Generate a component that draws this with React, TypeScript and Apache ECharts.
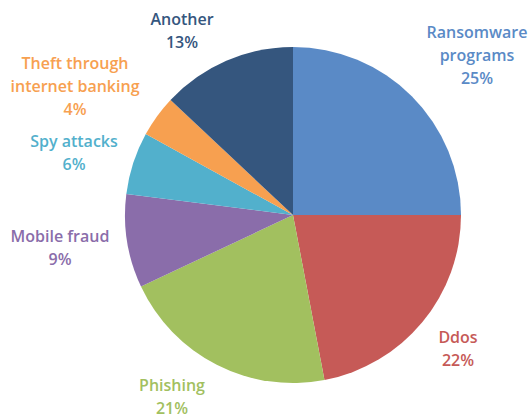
import React, { useEffect, useRef } from "react";
import * as echarts from "echarts";

const categories = [
  "Ransomware\nprograms",
  "Ddos",
  "Phishing",
  "Mobile fraud",
  "Spy attacks",
  "Theft through\ninternet banking",
  "Another",
];
const values = [25, 22, 21, 9, 6, 4, 13];
const colors = ["#5A8AC6", "#C65A57", "#A2C05F", "#8A6DAA", "#52B0CC", "#F7A050", "#35567E"];
const labelPos: [number, number][] = [
  [477, 55],
  [458, 348],
  [172, 396],
  [60, 247],
  [74, 152],
  [75, 86],
  [182, 30],
];

export default function App() {
  const ref = useRef<HTMLDivElement>(null);
  useEffect(() => {
    if (!ref.current) return;
    const chart = echarts.init(ref.current, undefined, { renderer: "svg" });
    chart.setOption({
      animation: false,
      backgroundColor: "#ffffff",
      series: [
        {
          type: "pie",
          center: [293, 215],
          radius: [0, 168],
          startAngle: 90,
          clockwise: true,
          data: categories.map((c, i) => ({
            name: c,
            value: values[i],
            itemStyle: { color: colors[i] },
            label: { color: colors[i] },
          })),
          label: {
            show: true,
            position: "outside",
            alignTo: "none",
            overflow: "none",
            bleedMargin: 0,
            edgeDistance: 0,
            formatter: (p: any) => `${p.name}\n${p.value}%`,
            fontFamily: "Open Sans",
            fontWeight: 600,
            fontSize: 16,
            lineHeight: 23,
            align: "center",
          },
          labelLine: { show: false },
          labelLayout: (p: any) => ({
            x: labelPos[p.dataIndex][0],
            y: labelPos[p.dataIndex][1],
            align: "center",
            verticalAlign: "middle",
          }),
          itemStyle: { borderWidth: 0 },
          emphasis: { disabled: true },
        },
      ],
    });
    return () => chart.dispose();
  }, []);
  return (
    <div
      ref={ref}
      style={{ position: "absolute", left: 0, top: 0, width: 531, height: 417 }}
    />
  );
}
